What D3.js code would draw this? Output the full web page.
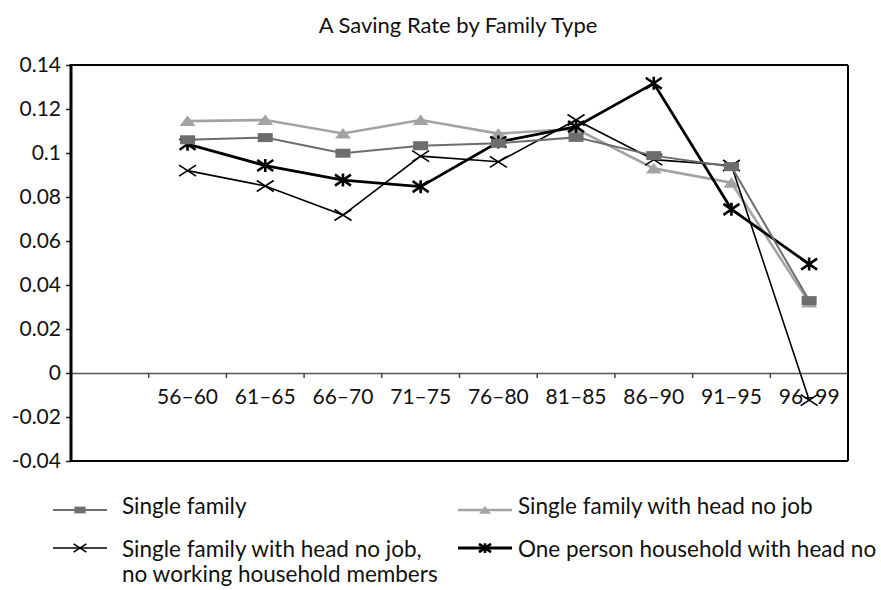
<!DOCTYPE html>
<html>
<head>
<meta charset="utf-8">
<script src="https://cdn.jsdelivr.net/npm/d3@7"></script>
<style>
  html, body { margin: 0; padding: 0; background: #fff; }
  svg { display: block; font-family: Lato, "Open Sans", sans-serif; }
</style>
</head>
<body>
<svg id="chart" width="881" height="590"></svg>
<script>
// ---- data ----
const categories = ["", "56–60", "61–65", "66–70", "71–75", "76–80", "81–85", "86–90", "91–95", "96–99"];
const singleFamily      = [null, 0.106, 0.107, 0.0999, 0.1033, 0.1044, 0.1071, 0.0988, 0.0938, 0.0329];
const headNoJob         = [null, 0.1145, 0.115, 0.1089, 0.115, 0.1088, 0.111, 0.093, 0.0865, 0.032];
const headNoJobNoWork   = [null, 0.092, 0.085, 0.0718, 0.0986, 0.096, 0.115, 0.097, 0.0943, -0.0123];
const onePersonNoJob    = [null, 0.104, 0.0943, 0.0877, 0.0847, 0.105, 0.112, 0.1317, 0.0744, 0.0495];
const yTicks = [-0.04, -0.02, 0, 0.02, 0.04, 0.06, 0.08, 0.1, 0.12, 0.14];
const yTickLabels = ["-0.04", "-0.02", "0", "0.02", "0.04", "0.06", "0.08", "0.1", "0.12", "0.14"];
const seriesNames = [
  "Single family",
  "Single family with head no job",
  "Single family with head no job,|no working household members",
  "One person household with head no job"
];
const titleText = "A Saving Rate by Family Type";

// ---- layout ----
const svg = d3.select("#chart");
const L = 71, R = 848, T = 65, B = 461;

const x = d3.scaleBand().domain(categories).range([L, R]).paddingInner(0).paddingOuter(0);
const y = d3.scaleLinear().domain([-0.04, 0.14]).range([B, T]);
const cx = c => x(c) + x.bandwidth() / 2;

// title
svg.append("text").attr("x", 458).attr("y", 33).attr("text-anchor", "middle")
  .attr("font-size", 22).attr("fill", "#111").text(titleText);

// y axis
const yAxis = d3.axisLeft(y).tickValues(yTicks).tickSize(5).tickPadding(5)
  .tickFormat((d, i) => yTickLabels[i]);
const gy = svg.append("g").attr("transform", `translate(${L},0)`).call(yAxis);
gy.select(".domain").remove();
gy.selectAll(".tick line").attr("stroke", "#222").attr("stroke-width", 1.5);
gy.selectAll(".tick text").attr("font-size", 21).attr("fill", "#111").attr("font-family", "Lato");

// x axis at zero
const xAxis = d3.axisBottom(x).tickSize(5).tickSizeOuter(0).tickFormat(d => d);
const gx = svg.append("g").attr("transform", `translate(0,${y(0)})`).call(xAxis);
gx.select(".domain").attr("stroke", "#555").attr("stroke-width", 1.5);
gx.selectAll(".tick line").attr("stroke", "#444").attr("stroke-width", 1.5)
  .attr("transform", `translate(${x.bandwidth() / 2},0)`);
gx.selectAll(".tick text").attr("font-size", 21).attr("fill", "#111").attr("font-family", "Lato").attr("dy", "1.1em");

// frame
svg.append("line").attr("x1", L).attr("x2", R).attr("y1", T).attr("y2", T).attr("stroke", "#000").attr("stroke-width", 2);
svg.append("line").attr("x1", L).attr("x2", R).attr("y1", B).attr("y2", B).attr("stroke", "#000").attr("stroke-width", 2);
svg.append("line").attr("x1", R).attr("x2", R).attr("y1", T).attr("y2", B).attr("stroke", "#000").attr("stroke-width", 2);
svg.append("line").attr("x1", L).attr("x2", L).attr("y1", T - 1).attr("y2", B + 1).attr("stroke", "#000").attr("stroke-width", 3);

// marker shapes (drawn relative to centre)
function drawMarker(g, type, px, py, scale) {
  const s = scale || 1;
  if (type === "square") {
    g.append("rect").attr("x", px - 7.5 * s).attr("y", py - 4.5 * s)
      .attr("width", 15 * s).attr("height", 9 * s).attr("fill", "#6d6d6d");
  } else if (type === "triangle") {
    g.append("path").attr("d", `M${px - 8 * s},${py + 5 * s}L${px + 8 * s},${py + 5 * s}L${px},${py - 5.5 * s}Z`)
      .attr("fill", "#a3a3a3");
  } else if (type === "x") {
    g.append("path").attr("d", `M${px - 8.5 * s},${py - 5.5 * s}L${px + 8.5 * s},${py + 5.5 * s}M${px - 8.5 * s},${py + 5.5 * s}L${px + 8.5 * s},${py - 5.5 * s}`)
      .attr("stroke", "#000").attr("stroke-width", 1.6).attr("fill", "none");
  } else if (type === "star") {
    g.append("path").attr("d", `M${px - 8 * s},${py - 5.5 * s}L${px + 8 * s},${py + 5.5 * s}M${px - 8 * s},${py + 5.5 * s}L${px + 8 * s},${py - 5.5 * s}M${px},${py - 6.5 * s}L${px},${py + 6.5 * s}`)
      .attr("stroke", "#000").attr("stroke-width", 2.6).attr("fill", "none");
  }
}

const series = [
  { name: seriesNames[1], values: headNoJob,       color: "#a3a3a3", width: 2.6, marker: "triangle" },
  { name: seriesNames[2], values: headNoJobNoWork, color: "#000",    width: 1.6, marker: "x" },
  { name: seriesNames[3], values: onePersonNoJob,  color: "#000",    width: 2.8, marker: "star" },
  { name: seriesNames[0], values: singleFamily,    color: "#6d6d6d", width: 2,   marker: "square" }
];

const line = d3.line().defined(d => d.v !== null).x(d => cx(d.c)).y(d => y(d.v));

series.forEach(s => {
  const pts = categories.map((c, i) => ({ c, v: s.values[i] }));
  const g = svg.append("g");
  g.append("path").datum(pts).attr("d", line).attr("fill", "none")
    .attr("stroke", s.color).attr("stroke-width", s.width).attr("stroke-linejoin", "miter");
  pts.filter(p => p.v !== null).forEach(p => drawMarker(g, s.marker, cx(p.c), y(p.v), 1));
});

// legend
const legendItems = [
  { name: seriesNames[0], color: "#6d6d6d", width: 2,   marker: "square",   x1: 53,  x2: 107, tx: 122, ly: 510, ty: 514 },
  { name: seriesNames[1], color: "#a3a3a3", width: 2.6, marker: "triangle", x1: 458, x2: 512, tx: 518, ly: 510, ty: 514 },
  { name: seriesNames[2], color: "#000",    width: 1.6, marker: "x",        x1: 53,  x2: 107, tx: 122, ly: 548, ty: 557 },
  { name: seriesNames[3], color: "#000",    width: 2.8, marker: "star",     x1: 458, x2: 512, tx: 518, ly: 548, ty: 557 }
];
legendItems.forEach(it => {
  const g = svg.append("g");
  g.append("line").attr("x1", it.x1).attr("x2", it.x2).attr("y1", it.ly).attr("y2", it.ly)
    .attr("stroke", it.color).attr("stroke-width", it.width);
  drawMarker(g, it.marker, (it.x1 + it.x2) / 2, it.ly, 0.75);
  const lines = it.name.split("|");
  const t = g.append("text").attr("x", it.tx).attr("y", it.ty).attr("font-size", 22.5).attr("fill", "#111");
  lines.forEach((ln, i) => t.append("tspan").attr("x", it.tx).attr("dy", i === 0 ? 0 : 25).text(ln));
});
</script>
</body>
</html>
